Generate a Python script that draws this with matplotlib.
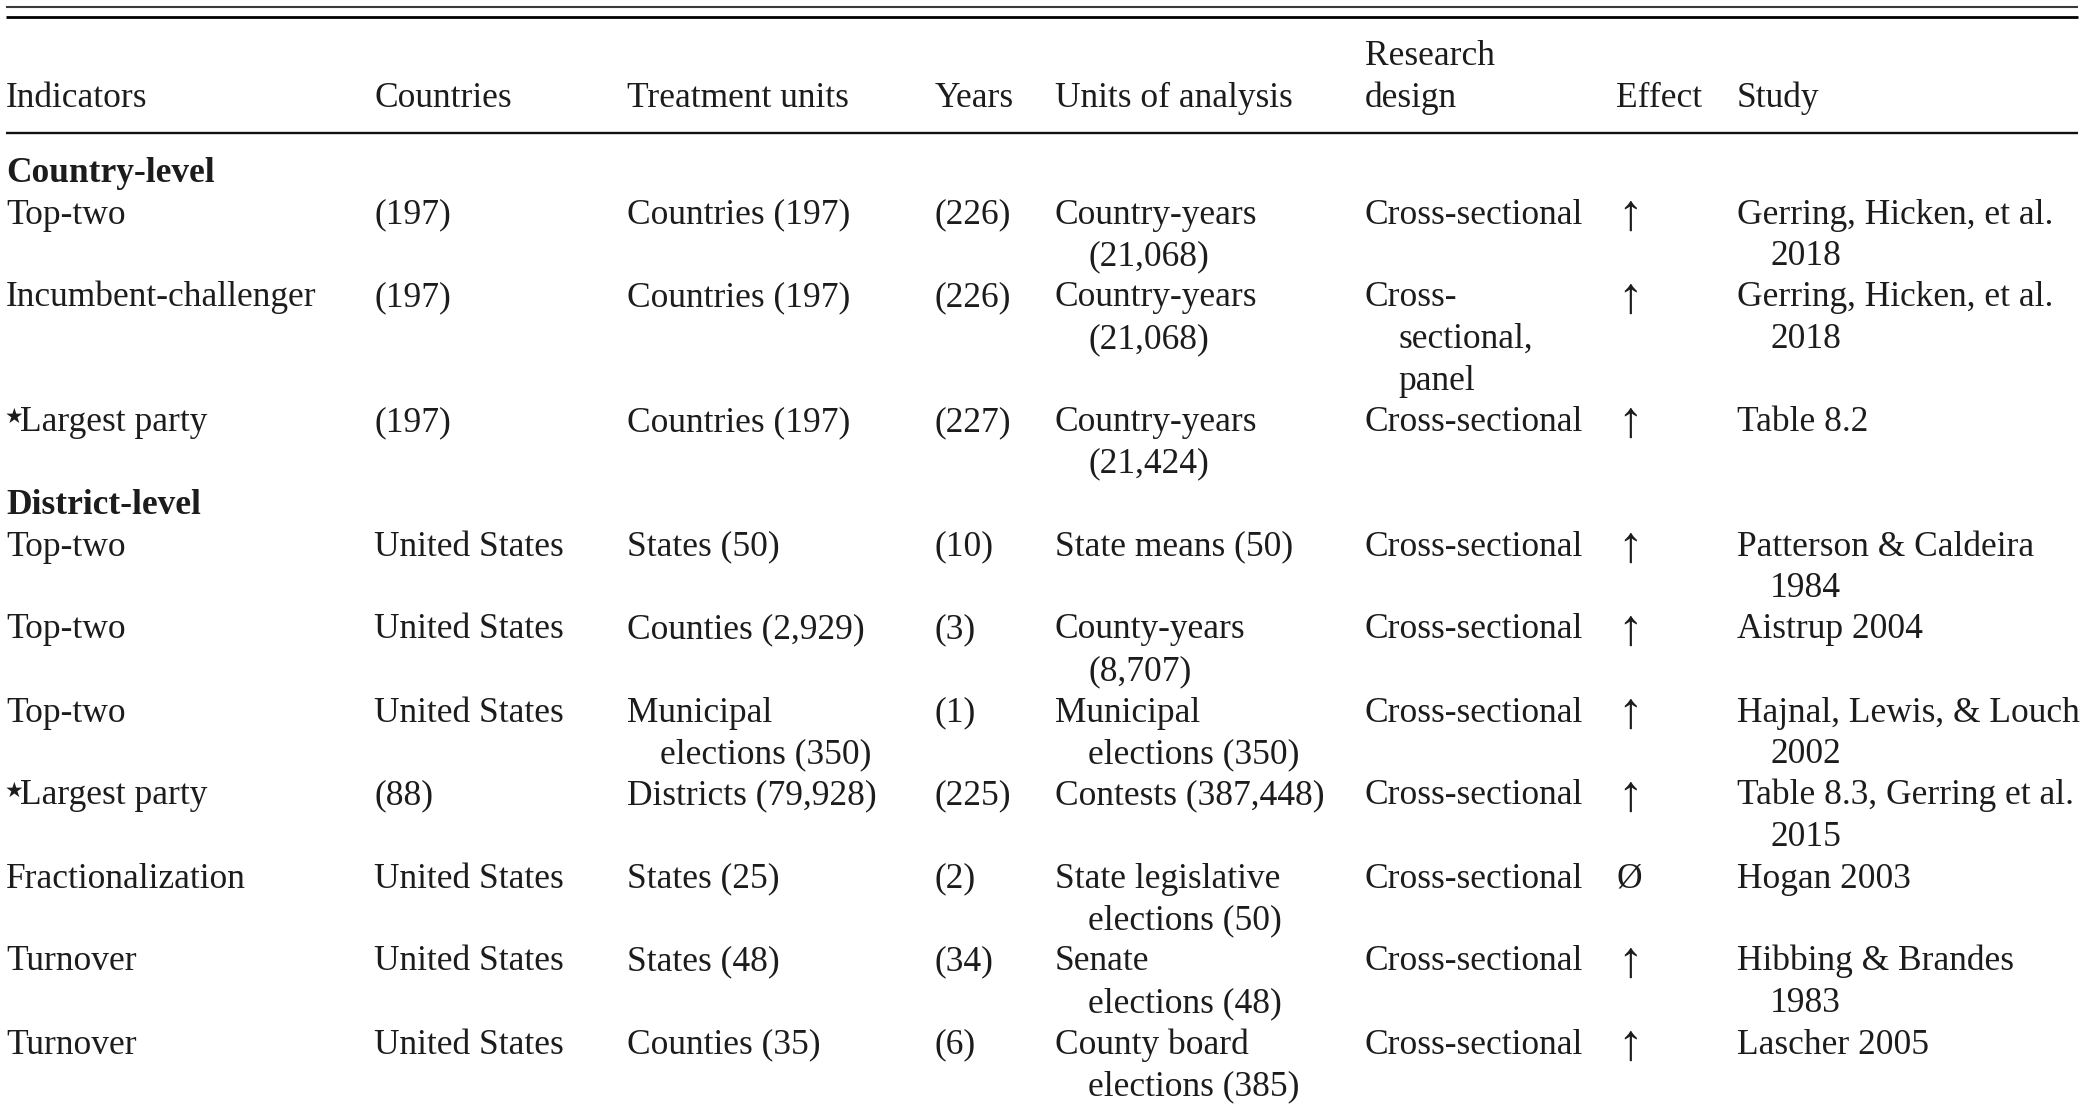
import matplotlib
matplotlib.use("Agg")
import matplotlib.pyplot as plt

# ---- data ----
col_headers = ["Indicators", "Countries", "Treatment units", "Years",
               "Units of analysis", "Research\ndesign", "Effect", "Study"]

sections = ["Country-level", "District-level"]

# each row: section index, then cell texts ("\n" marks a wrapped continuation line)
row_section = [0, 0, 0, 1, 1, 1, 1, 1, 1, 1]
indicators = ["Top-two", "Incumbent-challenger", "\u2605Largest party",
              "Top-two", "Top-two", "Top-two", "\u2605Largest party",
              "Fractionalization", "Turnover", "Turnover"]
countries = ["(197)", "(197)", "(197)",
             "United States", "United States", "United States", "(88)",
             "United States", "United States", "United States"]
treatment_units = ["Countries (197)", "Countries (197)", "Countries (197)",
                   "States (50)", "Counties (2,929)", "Municipal\nelections (350)",
                   "Districts (79,928)", "States (25)", "States (48)", "Counties (35)"]
years = ["(226)", "(226)", "(227)", "(10)", "(3)", "(1)", "(225)", "(2)", "(34)", "(6)"]
units_of_analysis = ["Country-years\n(21,068)", "Country-years\n(21,068)",
                     "Country-years\n(21,424)", "State means (50)",
                     "County-years\n(8,707)", "Municipal\nelections (350)",
                     "Contests (387,448)", "State legislative\nelections (50)",
                     "Senate\nelections (48)", "County board\nelections (385)"]
research_design = ["Cross-sectional", "Cross-\nsectional,\npanel", "Cross-sectional",
                   "Cross-sectional", "Cross-sectional", "Cross-sectional",
                   "Cross-sectional", "Cross-sectional", "Cross-sectional",
                   "Cross-sectional"]
effect = ["\u2191", "\u2191", "\u2191", "\u2191", "\u2191", "\u2191", "\u2191",
          "\u00d8", "\u2191", "\u2191"]
study = ["Gerring, Hicken, et al.\n2018", "Gerring, Hicken, et al.\n2018",
         "Table 8.2", "Patterson & Caldeira\n1984", "Aistrup 2004",
         "Hajnal, Lewis, & Louch\n2002", "Table 8.3, Gerring et al.\n2015",
         "Hogan 2003", "Hibbing & Brandes\n1983", "Lascher 2005"]

columns = [indicators, countries, treatment_units, years,
           units_of_analysis, research_design, effect, study]

# ---- layout (pixels) ----
W, H = 2080, 1109
col_x = [6, 374, 627, 935, 1055, 1365, 1616, 1737]
indent = 33
first_line_y = 182
line_h = 41.5
header_y2 = 107
header_y1 = 65
fs = 25.5
color = "#1c1c1c"
family = ["Liberation Serif", "DejaVu Serif", "DejaVu Sans"]

fig = plt.figure(figsize=(W / 100, H / 100), dpi=100)
ax = fig.add_axes([0, 0, 1, 1])
ax.set_xlim(0, W)
ax.set_ylim(H, 0)
ax.axis("off")

# rules
ax.plot([6, 2078], [6.5, 6.5], color="#3a3a3a", lw=1.5, solid_capstyle="butt")
ax.plot([6, 2078], [16.5, 16.5], color="#000000", lw=2.0, solid_capstyle="butt")
ax.plot([6, 2078], [133, 133], color="#111111", lw=1.7, solid_capstyle="butt")


def draw_cell_line(x, y, s):
    if s.startswith("\u2605"):
        ax.text(x - 1, y - 8, "\u2605", fontsize=15, family=["DejaVu Sans"],
                color=color, va="baseline")
        ax.text(x + 14, y, s[1:], fontsize=fs, family=family, color=color, va="baseline")
    elif s == "\u2191":
        ax.text(x + 1, y + 6, s, fontsize=fs * 1.45, family=family, color=color,
                va="baseline")
    else:
        ax.text(x, y, s, fontsize=fs, family=family, color=color, va="baseline")


# headers
for x, h in zip(col_x, col_headers):
    parts = h.split("\n")
    if len(parts) == 2:
        ax.text(x, header_y1, parts[0], fontsize=fs, family=family, color=color, va="baseline")
        ax.text(x, header_y2, parts[1], fontsize=fs, family=family, color=color, va="baseline")
    else:
        ax.text(x, header_y2, h, fontsize=fs, family=family, color=color, va="baseline")

# body
line = 0
current_section = None
for r in range(len(indicators)):
    if row_section[r] != current_section:
        current_section = row_section[r]
        ax.text(col_x[0], first_line_y + line * line_h, sections[current_section],
                fontsize=fs, family=family, color=color, va="baseline", fontweight="bold")
        line += 1
    nlines = 1
    for c, col in enumerate(columns):
        parts = col[r].split("\n")
        nlines = max(nlines, len(parts))
        for k, p in enumerate(parts):
            x = col_x[c] + (indent if k > 0 else 0)
            draw_cell_line(x, first_line_y + (line + k) * line_h, p)
    line += nlines

fig.savefig("out.png", dpi=100, facecolor="white")
